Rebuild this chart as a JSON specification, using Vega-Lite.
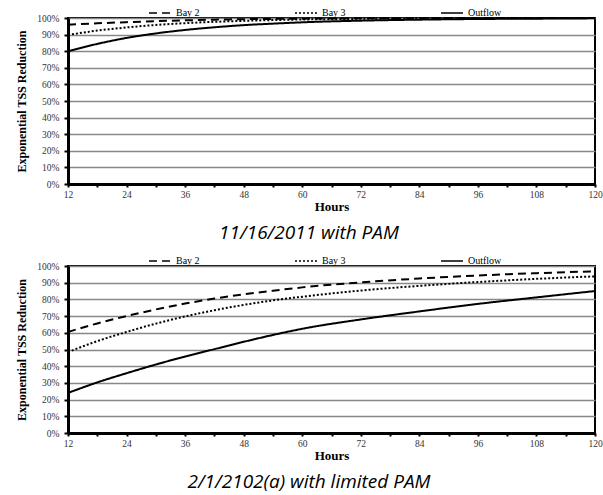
{
  "$schema": "https://vega.github.io/schema/vega-lite/v6.json",
  "background": "white",
  "padding": {"left": 14, "top": 0, "right": 0, "bottom": 2},
  "config": {
    "view": {"stroke": "black", "strokeWidth": 2},
    "font": "Liberation Serif",
    "concat": {"spacing": 4}
  },
  "datasets": {
    "top": [
      {"series": "Bay 2", "hours": 12, "value": 96.0},
      {"series": "Bay 2", "hours": 18, "value": 96.8},
      {"series": "Bay 2", "hours": 24, "value": 97.5},
      {"series": "Bay 2", "hours": 30, "value": 98.1},
      {"series": "Bay 2", "hours": 36, "value": 98.6},
      {"series": "Bay 2", "hours": 42, "value": 99.0},
      {"series": "Bay 2", "hours": 48, "value": 99.3},
      {"series": "Bay 2", "hours": 60, "value": 99.6},
      {"series": "Bay 2", "hours": 72, "value": 99.8},
      {"series": "Bay 2", "hours": 84, "value": 99.9},
      {"series": "Bay 2", "hours": 96, "value": 100},
      {"series": "Bay 2", "hours": 108, "value": 100},
      {"series": "Bay 2", "hours": 120, "value": 100},
      {"series": "Bay 3", "hours": 12, "value": 89.8},
      {"series": "Bay 3", "hours": 18, "value": 92.4},
      {"series": "Bay 3", "hours": 24, "value": 94.3},
      {"series": "Bay 3", "hours": 30, "value": 95.8},
      {"series": "Bay 3", "hours": 36, "value": 96.9},
      {"series": "Bay 3", "hours": 42, "value": 97.7},
      {"series": "Bay 3", "hours": 48, "value": 98.3},
      {"series": "Bay 3", "hours": 60, "value": 99.1},
      {"series": "Bay 3", "hours": 72, "value": 99.5},
      {"series": "Bay 3", "hours": 84, "value": 99.8},
      {"series": "Bay 3", "hours": 96, "value": 99.9},
      {"series": "Bay 3", "hours": 108, "value": 100},
      {"series": "Bay 3", "hours": 120, "value": 100},
      {"series": "Outflow", "hours": 12, "value": 80.0},
      {"series": "Outflow", "hours": 18, "value": 84.4},
      {"series": "Outflow", "hours": 24, "value": 88.0},
      {"series": "Outflow", "hours": 30, "value": 90.7},
      {"series": "Outflow", "hours": 36, "value": 92.8},
      {"series": "Outflow", "hours": 42, "value": 94.4},
      {"series": "Outflow", "hours": 48, "value": 95.7},
      {"series": "Outflow", "hours": 54, "value": 96.6},
      {"series": "Outflow", "hours": 60, "value": 97.4},
      {"series": "Outflow", "hours": 72, "value": 98.4},
      {"series": "Outflow", "hours": 84, "value": 99.0},
      {"series": "Outflow", "hours": 96, "value": 99.4},
      {"series": "Outflow", "hours": 108, "value": 99.6},
      {"series": "Outflow", "hours": 120, "value": 99.8}
    ],
    "bottom": [
      {"series": "Bay 2", "hours": 12, "value": 60.5},
      {"series": "Bay 2", "hours": 18, "value": 65.6},
      {"series": "Bay 2", "hours": 24, "value": 70.0},
      {"series": "Bay 2", "hours": 30, "value": 74.0},
      {"series": "Bay 2", "hours": 36, "value": 77.5},
      {"series": "Bay 2", "hours": 42, "value": 80.5},
      {"series": "Bay 2", "hours": 48, "value": 83.0},
      {"series": "Bay 2", "hours": 54, "value": 85.2},
      {"series": "Bay 2", "hours": 60, "value": 87.2},
      {"series": "Bay 2", "hours": 72, "value": 90.2},
      {"series": "Bay 2", "hours": 84, "value": 92.5},
      {"series": "Bay 2", "hours": 96, "value": 94.3},
      {"series": "Bay 2", "hours": 108, "value": 95.7},
      {"series": "Bay 2", "hours": 120, "value": 96.8},
      {"series": "Bay 3", "hours": 12, "value": 48.5},
      {"series": "Bay 3", "hours": 18, "value": 55.0},
      {"series": "Bay 3", "hours": 24, "value": 60.5},
      {"series": "Bay 3", "hours": 30, "value": 65.5},
      {"series": "Bay 3", "hours": 36, "value": 69.8},
      {"series": "Bay 3", "hours": 42, "value": 73.5},
      {"series": "Bay 3", "hours": 48, "value": 76.7},
      {"series": "Bay 3", "hours": 54, "value": 79.4},
      {"series": "Bay 3", "hours": 60, "value": 81.6},
      {"series": "Bay 3", "hours": 72, "value": 85.3},
      {"series": "Bay 3", "hours": 84, "value": 88.1},
      {"series": "Bay 3", "hours": 96, "value": 90.4},
      {"series": "Bay 3", "hours": 108, "value": 92.3},
      {"series": "Bay 3", "hours": 120, "value": 93.8},
      {"series": "Outflow", "hours": 12, "value": 24.0},
      {"series": "Outflow", "hours": 18, "value": 30.3},
      {"series": "Outflow", "hours": 24, "value": 35.8},
      {"series": "Outflow", "hours": 30, "value": 41.0},
      {"series": "Outflow", "hours": 36, "value": 45.8},
      {"series": "Outflow", "hours": 42, "value": 50.2},
      {"series": "Outflow", "hours": 48, "value": 54.6},
      {"series": "Outflow", "hours": 54, "value": 58.7},
      {"series": "Outflow", "hours": 60, "value": 62.4},
      {"series": "Outflow", "hours": 72, "value": 68.0},
      {"series": "Outflow", "hours": 84, "value": 72.8},
      {"series": "Outflow", "hours": 96, "value": 77.3},
      {"series": "Outflow", "hours": 108, "value": 81.2},
      {"series": "Outflow", "hours": 120, "value": 85.0}
    ]
  },
  "vconcat": [
    {
      "width": 527,
      "height": 166,
      "data": {"name": "top"},
      "title": {"text": "11/16/2011 with PAM", "orient": "bottom", "anchor": "middle", "frame": "bounds", "font": "Open Sans", "fontStyle": "italic", "fontWeight": "normal", "fontSize": 19, "color": "black", "offset": 10},
      "mark": {"type": "line", "color": "black", "strokeWidth": 2, "interpolate": "monotone"},
      "encoding": {
        "x": {"field": "hours", "type": "quantitative", "scale": {"domain": [12, 120], "nice": false},
          "axis": {"title": "Hours", "titleFont": "Liberation Serif", "titleFontWeight": "bold", "titleFontSize": 13, "titleColor": "black", "titlePadding": 2,
            "values": [12, 18, 24, 30, 36, 42, 48, 54, 60, 66, 72, 78, 84, 90, 96, 102, 108, 114, 120],
            "labelExpr": "datum.value % 12 == 0 ? datum.label : ''", "format": "d",
            "labelFontSize": 9.5, "labelColor": "#333", "labelPadding": 2, "labelFlush": false,
            "domainColor": "black", "domainWidth": 3, "tickColor": "black", "tickWidth": 2, "tickSize": 3, "grid": false}},
        "y": {"field": "value", "type": "quantitative", "scale": {"domain": [0, 100], "nice": false},
          "axis": {"title": "Exponential TSS Reduction", "titleFont": "Liberation Serif", "titleFontWeight": "bold", "titleFontSize": 12, "titleColor": "black", "titlePadding": 8,
            "values": [0, 10, 20, 30, 40, 50, 60, 70, 80, 90, 100],
            "labelExpr": "datum.value + '%'",
            "labelFontSize": 9.5, "labelColor": "#333", "labelPadding": 5,
            "domainColor": "black", "domainWidth": 3, "tickColor": "black", "tickWidth": 2, "tickSize": 4,
            "grid": true, "gridColor": "#888", "gridWidth": 1.5}},
        "strokeDash": {"field": "series", "type": "nominal",
          "scale": {"domain": ["Bay 2", "Bay 3", "Outflow"], "range": [[8, 5], [2, 2], [1, 0]]},
          "legend": {"title": null, "orient": "none", "legendX": 80, "legendY": -17, "direction": "horizontal",
            "symbolType": "stroke", "symbolSize": 484, "symbolStrokeWidth": 1.5, "symbolStrokeColor": "black",
            "labelFont": "Liberation Serif", "labelFontSize": 10, "labelColor": "black", "labelOffset": 4, "columnPadding": 92}}
      }
    },
    {
      "width": 527,
      "height": 167,
      "data": {"name": "bottom"},
      "title": {"text": "2/1/2102(a) with limited PAM", "orient": "bottom", "anchor": "middle", "frame": "bounds", "font": "Open Sans", "fontStyle": "italic", "fontWeight": "normal", "fontSize": 19, "color": "black", "offset": 10},
      "mark": {"type": "line", "color": "black", "strokeWidth": 2, "interpolate": "monotone"},
      "encoding": {
        "x": {"field": "hours", "type": "quantitative", "scale": {"domain": [12, 120], "nice": false},
          "axis": {"title": "Hours", "titleFont": "Liberation Serif", "titleFontWeight": "bold", "titleFontSize": 13, "titleColor": "black", "titlePadding": 2,
            "values": [12, 18, 24, 30, 36, 42, 48, 54, 60, 66, 72, 78, 84, 90, 96, 102, 108, 114, 120],
            "labelExpr": "datum.value % 12 == 0 ? datum.label : ''", "format": "d",
            "labelFontSize": 9.5, "labelColor": "#333", "labelPadding": 2, "labelFlush": false,
            "domainColor": "black", "domainWidth": 3, "tickColor": "black", "tickWidth": 2, "tickSize": 3, "grid": false}},
        "y": {"field": "value", "type": "quantitative", "scale": {"domain": [0, 100], "nice": false},
          "axis": {"title": "Exponential TSS Reduction", "titleFont": "Liberation Serif", "titleFontWeight": "bold", "titleFontSize": 12, "titleColor": "black", "titlePadding": 8,
            "values": [0, 10, 20, 30, 40, 50, 60, 70, 80, 90, 100],
            "labelExpr": "datum.value + '%'",
            "labelFontSize": 9.5, "labelColor": "#333", "labelPadding": 5,
            "domainColor": "black", "domainWidth": 3, "tickColor": "black", "tickWidth": 2, "tickSize": 4,
            "grid": true, "gridColor": "#888", "gridWidth": 1.5}},
        "strokeDash": {"field": "series", "type": "nominal",
          "scale": {"domain": ["Bay 2", "Bay 3", "Outflow"], "range": [[8, 5], [2, 2], [1, 0]]},
          "legend": {"title": null, "orient": "none", "legendX": 80, "legendY": -17, "direction": "horizontal",
            "symbolType": "stroke", "symbolSize": 484, "symbolStrokeWidth": 1.5, "symbolStrokeColor": "black",
            "labelFont": "Liberation Serif", "labelFontSize": 10, "labelColor": "black", "labelOffset": 4, "columnPadding": 92}}
      }
    }
  ],
  "resolve": {"scale": {"strokeDash": "independent"}, "legend": {"strokeDash": "independent"}}
}
